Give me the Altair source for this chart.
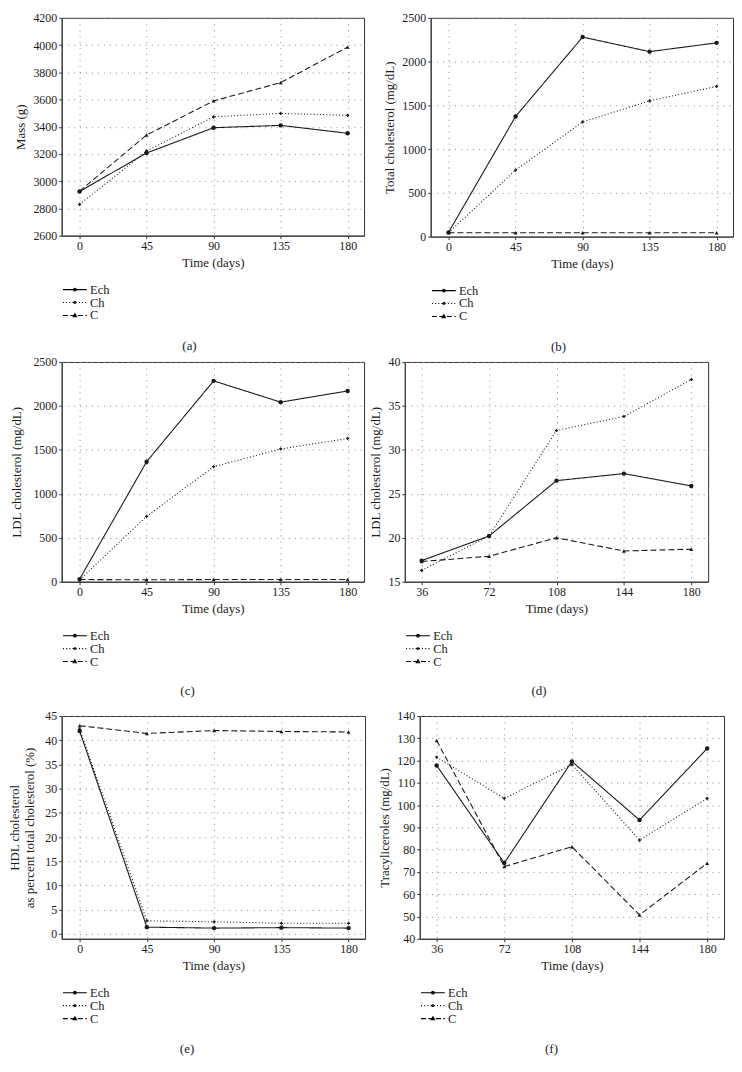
import altair as alt
import pandas as pd

SERIF = "Liberation Serif"
series = ["Ech", "Ch", "C"]
days_a = [0, 45, 90, 135, 180]
days_b = [36, 72, 108, 144, 180]

# (a) Mass (g)
mass_ech = [2925, 3207, 3393, 3410, 3352]
mass_ch = [2830, 3222, 3473, 3498, 3484]
mass_c = [2927, 3339, 3590, 3724, 3985]
# (b) Total cholesterol (mg/dL)
tc_ech = [49, 1373, 2280, 2114, 2214]
tc_ch = [45, 760, 1310, 1552, 1716]
tc_c = [45, 45, 45, 45, 45]
# (c) LDL cholesterol (mg/dL)
ldl_ech = [30, 1365, 2285, 2043, 2170]
ldl_ch = [20, 744, 1308, 1510, 1630]
ldl_c = [25, 22, 25, 25, 25]
# (d) LDL cholesterol (mg/dL), days 36-180
ldl2_ech = [17.4, 20.2, 26.5, 27.3, 25.9]
ldl2_ch = [16.3, 20.2, 32.2, 33.8, 38.0]
ldl2_c = [17.3, 17.9, 20.0, 18.5, 18.7]
# (e) HDL as percent of total cholesterol
hdl_ech = [41.9, 1.4, 1.2, 1.3, 1.2]
hdl_ch = [42.3, 2.7, 2.5, 2.2, 2.2]
hdl_c = [43.0, 41.4, 42.0, 41.8, 41.7]
# (f) Triacylglycerols (mg/dL)
tg_ech = [117.8, 74.0, 119.6, 93.3, 125.4]
tg_ch = [121.5, 103.0, 118.2, 84.3, 103.0]
tg_c = [129.0, 72.4, 81.3, 50.7, 73.9]

INK = "#1a1a1a"
# strokeDash scale uses reversed domain order so its legend (disabled) is not merged with the shape legend
dash_domain = ["C", "Ch", "Ech"]
dash_range = [[6, 3], [1, 2.2], [1, 0]]
point_shapes = {"Ech": ("circle", 20), "Ch": ("cross", 10), "C": ("triangle-up", 16)}


def seg_path(x0, x1, dash, gap):
    parts = []
    x = x0
    while x < x1 - 1e-9:
        e = min(x + dash, x1)
        parts.append(f"M{x:.2f},0H{e:.2f}")
        x = e + gap
    return "".join(parts)


circ = "M0.45,0A0.45,0.45,0,1,1,-0.45,0A0.45,0.45,0,1,1,0.45,0Z"
dot = "M0.3,0A0.3,0.3,0,1,1,-0.3,0A0.3,0.3,0,1,1,0.3,0Z"
tri = "M0,-0.6L0.55,0.4L-0.55,0.4Z"
legend_paths = [
    "M-4,0H4" + circ,
    seg_path(-4, 4, 0.34, 0.73) + dot,
    seg_path(-4, 4, 1.7, 0.8) + tri,
]


def panel(days, ech, ch, c, ytitle, ydom, yticks, xdom, caption, w, h, cap_off, ext=0):
    df = pd.DataFrame({
        "day": days * 3,
        "value": list(ech) + list(ch) + list(c),
        "series": [s for s in series for _ in days],
    })
    x = alt.X("day:Q", scale=alt.Scale(domain=xdom, nice=False, zero=False),
              axis=alt.Axis(values=days, title="Time (days)", format="d"))
    yaxis_kw = dict(values=yticks, title=ytitle, format="d")
    if ext:
        yaxis_kw["minExtent"] = ext
    y = alt.Y("value:Q", scale=alt.Scale(domain=ydom, nice=False, zero=False),
              axis=alt.Axis(**yaxis_kw))
    base = alt.Chart(df).encode(x=x, y=y)
    lines = base.mark_line(color=INK, strokeWidth=1.1).encode(
        strokeDash=alt.StrokeDash("series:N", scale=alt.Scale(domain=dash_domain, range=dash_range), legend=None)
    )
    layers = [lines]
    for s in series:
        shp, sz = point_shapes[s]
        layers.append(
            base.transform_filter(alt.datum.series == s).mark_point(
                shape=shp, filled=True, size=sz, color=INK, opacity=1)
        )
    leg = base.mark_point(
        filled=False, stroke="black", size=0, strokeWidth=1.1
    ).encode(
        shape=alt.Shape("series:N", scale=alt.Scale(domain=series, range=legend_paths),
                        legend=alt.Legend(title=None, orient="bottom", direction="vertical",
                                          symbolSize=36, symbolStrokeColor="black",
                                          symbolFillColor="black", symbolStrokeWidth=1.1,
                                          symbolOpacity=1,
                                          symbolOffset=7, labelOffset=9,
                                          labelFont=SERIF, labelFontSize=12.5, labelColor=INK,
                                          rowPadding=0, offset=14, padding=0)),
    )
    layers.append(leg)
    return alt.layer(*layers).properties(
        width=w, height=h,
        title=alt.TitleParams(caption, orient="bottom", fontSize=13, font=SERIF,
                              fontWeight="normal", color=INK, offset=cap_off, anchor="middle",
                              frame="bounds"),
    )


xd_a = [-12, 191]
xd_b = [27, 189]
pa = panel(days_a, mass_ech, mass_ch, mass_c, "Mass (g)", [2600, 4200],
           list(range(2600, 4201, 200)), xd_a, "(a)", 304, 219, 18)
pb = panel(days_a, tc_ech, tc_ch, tc_c, "Total cholesterol (mg/dL)", [0, 2500],
           list(range(0, 2501, 500)), xd_a, "(b)", 304, 220, 18)
pc = panel(days_a, ldl_ech, ldl_ch, ldl_c, "LDL cholesterol (mg/dL)", [0, 2500],
           list(range(0, 2501, 500)), xd_a, "(c)", 304, 221, 17, ext=33)
pd_ = panel(days_b, ldl2_ech, ldl2_ch, ldl2_c, "LDL cholesterol (mg/dL)", [15, 40],
            list(range(15, 41, 5)), xd_b, "(d)", 305, 221, 17)
pe = panel(days_a, hdl_ech, hdl_ch, hdl_c,
           ["HDL cholesterol", "as percent total cholesterol (%)"], [-1, 45],
           list(range(0, 46, 5)), xd_a, "(e)", 305, 224, 18, ext=20)
pf = panel(days_b, tg_ech, tg_ch, tg_c, "Tracyliceroles (mg/dL)", [40, 140],
           list(range(40, 141, 10)), xd_b, "(f)", 306, 224, 18)


def indep(ch):
    return ch.resolve_scale(
        shape="independent", strokeDash="independent"
    ).resolve_legend(shape="independent", strokeDash="independent")


def row(a, b, sp):
    return indep(alt.hconcat(a, b, spacing=sp))


row1 = row(pa, pb, 18)
row2 = row(pc, pd_, 4)
row3 = row(pe, pf, 12)

lower = indep(alt.concat(row2, row3, columns=1, align="none", spacing=10))
chart = indep(alt.concat(row1, lower, columns=1, align="none", spacing=0)).properties(
    padding={"left": 0, "top": 0, "right": 0, "bottom": 0},
    background="white",
).configure_view(
    stroke="#333", strokeWidth=1
).configure_axis(
    domainColor="#333", domainWidth=1, tickColor="#333", tickSize=3,
    labelFont=SERIF, labelFontSize=12, labelColor=INK, labelPadding=2,
    titleFont=SERIF, titleFontSize=13, titleFontWeight="normal", titleColor=INK,
    titlePadding=5,
    gridColor="#8a8a8a", gridDash=[1, 5], gridWidth=1, gridOpacity=1,
)

chart.save("out.html", embed_options={"renderer": "svg", "actions": False})
